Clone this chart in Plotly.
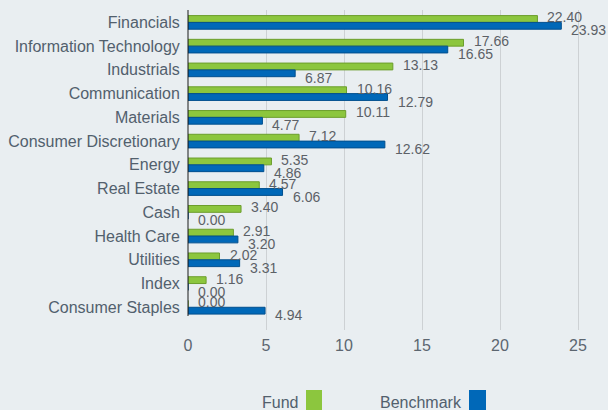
import plotly.graph_objects as go

# Sector weights (%), fund vs benchmark
sectors = [
    "Financials", "Information Technology", "Industrials", "Communication",
    "Materials", "Consumer Discretionary", "Energy", "Real Estate", "Cash",
    "Health Care", "Utilities", "Index", "Consumer Staples",
]
fund = [22.40, 17.66, 13.13, 10.16, 10.11, 7.12, 5.35, 4.57, 3.40, 2.91, 2.02, 1.16, 0.00]
benchmark = [23.93, 16.65, 6.87, 12.79, 4.77, 12.62, 4.86, 6.06, 0.00, 3.20, 3.31, 0.00, 4.94]
x_ticks = [0, 5, 10, 15, 20, 25]

GREEN = "#8cc63e"
GREEN_EDGE = "#6c9e2c"
BLUE = "#0068b8"
BLUE_EDGE = "#004f8e"
BG = "#e9eef1"
TEXT = "#52606d"
VALUE_TEXT = "#5c6167"

W, H = 608, 410
L, R, T, B = 188, 0, 10, 80
plot_w = W - L - R
plot_h = H - T - B


def px_x(px):
    return (px - L) / plot_w


def px_y(py):
    return (H - B - py) / plot_h


fig = go.Figure()
fig.add_trace(go.Bar(
    name="Fund", y=sectors, x=fund, orientation="h",
    marker=dict(color=GREEN, line=dict(color=GREEN_EDGE, width=1)),
))
fig.add_trace(go.Bar(
    name="Benchmark", y=sectors, x=benchmark, orientation="h",
    marker=dict(color=BLUE, line=dict(color=BLUE_EDGE, width=1)),
))

annotations = []
for s, f, b in zip(sectors, fund, benchmark):
    annotations.append(dict(
        x=f, y=s, xref="x", yref="y", text=f"{f:.2f}", showarrow=False,
        xanchor="left", yanchor="middle", xshift=8, yshift=5,
        font=dict(size=14, color=VALUE_TEXT, family="Liberation Sans, Arial"),
    ))
    annotations.append(dict(
        x=b, y=s, xref="x", yref="y", text=f"{b:.2f}", showarrow=False,
        xanchor="left", yanchor="middle", xshift=8, yshift=-8,
        font=dict(size=14, color=VALUE_TEXT, family="Liberation Sans, Arial"),
    ))

# Legend: label text followed by a colour swatch
legend_font = dict(size=16, color=TEXT, family="Liberation Sans, Arial")
annotations.append(dict(
    x=px_x(300), y=px_y(402), xref="paper", yref="paper", text="Fund",
    showarrow=False, xanchor="right", yanchor="middle", font=legend_font,
))
annotations.append(dict(
    x=px_x(464), y=px_y(402), xref="paper", yref="paper", text="Benchmark",
    showarrow=False, xanchor="right", yanchor="middle", font=legend_font,
))

shapes = [
    dict(type="rect", xref="paper", yref="paper",
         x0=px_x(306), x1=px_x(322), y0=px_y(412), y1=px_y(390),
         fillcolor=GREEN, line=dict(width=0)),
    dict(type="rect", xref="paper", yref="paper",
         x0=px_x(469), x1=px_x(486), y0=px_y(412), y1=px_y(390),
         fillcolor=BLUE, line=dict(width=0)),
    # category axis line
    dict(type="line", xref="paper", yref="paper",
         x0=0, x1=0, y0=px_y(316), y1=1,
         line=dict(color="#1a1a1a", width=1)),
]

step = 23.74
top_off = 12.4 / step
y_range = [-top_off + plot_h / step, -top_off]

fig.update_layout(
    width=W, height=H,
    margin=dict(l=L, r=R, t=T, b=B),
    paper_bgcolor=BG, plot_bgcolor=BG,
    barmode="group", bargap=0.426, bargroupgap=0,
    showlegend=False,
    font=dict(family="Liberation Sans, Arial", color=TEXT),
    annotations=annotations,
    shapes=shapes,
    xaxis=dict(
        range=[0, plot_w / 15.6], tickvals=x_ticks,
        showgrid=True, gridcolor="#cdd1d4", gridwidth=1, zeroline=False,
        showline=False, ticks="outside", ticklen=1, tickcolor="rgba(0,0,0,0)",
        tickfont=dict(size=16, color="#5c6670"),
    ),
    yaxis=dict(
        type="category", range=y_range, showgrid=False, zeroline=False,
        showline=False, ticks="outside", ticklen=4, tickcolor="rgba(0,0,0,0)",
        tickfont=dict(size=16, color=TEXT),
    ),
)

fig.write_html("out.html")
